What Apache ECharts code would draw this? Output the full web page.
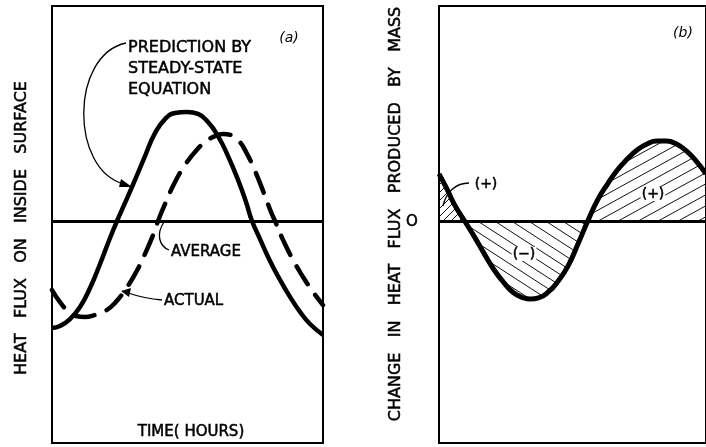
<!DOCTYPE html>
<html><head><meta charset="utf-8">
<script src="https://cdn.jsdelivr.net/npm/echarts@6/dist/echarts.min.js"></script>
<style>html,body{margin:0;padding:0;background:#fff}#c{width:706px;height:447px}</style>
</head><body><div id="c"></div>
<script>
// ---- data (time in hours, flux in relative units; 0 = average) ----
const predictionTime = [0,0.709,1.594,2.480,3.366,4.252,5.137,5.757,6.466,7.352,8.237,9.123,10.009,10.895,11.957,12.932,13.818,14.703,15.589,16.475,17.183,17.715,18.423,19.309,20.195,21.080,21.966,22.852,24];
const predictionFlux = [-0.498,-0.488,-0.456,-0.40,-0.312,-0.20,-0.079,0,0.084,0.191,0.302,0.409,0.474,0.502,0.507,0.498,0.460,0.395,0.302,0.191,0.088,0,-0.084,-0.186,-0.274,-0.353,-0.423,-0.479,-0.53];
const actualTime = [0,0.709,1.417,2.126,2.923,3.809,4.694,5.580,6.466,7.352,8.237,9.123,9.389,10.009,10.895,11.780,12.666,13.552,14.437,15.146,15.855,16.563,17.272,17.980,18.689,19.398,19.752,20.461,21.346,22.232,23.118,24];
const actualFlux = [-0.321,-0.377,-0.419,-0.442,-0.447,-0.437,-0.419,-0.381,-0.321,-0.247,-0.153,-0.042,0,0.079,0.181,0.260,0.321,0.367,0.395,0.405,0.40,0.372,0.312,0.233,0.140,0.042,0,-0.088,-0.181,-0.260,-0.330,-0.391];
const averageFlux = 0;
const massTime = [0,0.709,1.417,2.303,3.189,4.074,4.960,5.846,6.732,7.617,8.237,8.946,9.832,10.717,11.603,12.489,13.375,14.260,15.146,16.032,16.918,17.803,18.689,19.575,20.461,21.346,22.232,23.118,24];
const massChange = [0.219,0.149,0.074,0,-0.074,-0.153,-0.228,-0.288,-0.335,-0.358,-0.363,-0.358,-0.330,-0.279,-0.209,-0.107,0,0.098,0.172,0.237,0.288,0.330,0.358,0.372,0.372,0.358,0.326,0.279,0.219];
const timeRange = [0, 24];
const fluxRange = [-1.0326, 1];

const zip = (xs, ys) => xs.map((x, i) => [x, ys[i]]);
const massPairs = zip(massTime, massChange);
const firstCross = massTime[massChange.indexOf(0)];
const posLeft = massPairs.filter(p => p[0] <= firstCross).map(p => [p[0], Math.max(p[1], 0)]);
const posRight = massPairs.filter(p => p[0] > firstCross).map(p => [p[0], Math.max(p[1], 0)]);
const negPart = massPairs.map(p => [p[0], Math.min(p[1], 0)]);

function hatch(w, h, dir, lw) {
  const c = document.createElement('canvas');
  c.width = w; c.height = h;
  const g = c.getContext('2d');
  g.strokeStyle = '#111'; g.lineWidth = lw;
  for (const dy of [-h, 0, h]) {
    g.beginPath();
    if (dir > 0) { g.moveTo(0, h + dy); g.lineTo(w, dy); }
    else { g.moveTo(0, dy); g.lineTo(w, h + dy); }
    g.stroke();
  }
  return { image: c, repeat: 'repeat' };
}

const chart = echarts.init(document.getElementById('c'), null, { renderer: 'canvas' });
const font = '"DejaVu Sans", "Liberation Sans", sans-serif';
const axX = (i) => ({ type: 'value', gridIndex: i, min: timeRange[0], max: timeRange[1], show: false });
const axY = (i) => ({ type: 'value', gridIndex: i, min: fluxRange[0], max: fluxRange[1], show: false });
const zeroLine = { silent: true, symbol: ['none', 'none'], label: { show: false },
  lineStyle: { color: '#000', width: 3, type: 'solid' }, data: [{ yAxis: averageFlux }] };

const txt = (x, y, text, o = {}) => ({ type: 'text', x, y, z: 100, rotation: o.rot || 0,
  style: { text, font: o.font || ('15px ' + font), fill: '#000', stroke: '#000', lineWidth: o.lw == null ? 0.5 : o.lw,
    textAlign: o.align || 'left', textVerticalAlign: 'middle', backgroundColor: o.bg, padding: o.bg ? [0, 1] : 0 } });
const curve = (x1, y1, cx1, cy1, cx2, cy2, x2, y2) => ({ type: 'bezierCurve', z: 100,
  shape: { x1, y1, cpx1: cx1, cpy1: cy1, cpx2: cx2, cpy2: cy2, x2, y2 },
  style: { stroke: '#000', lineWidth: 1.3, fill: null } });
const head = (pts) => ({ type: 'polygon', z: 100, shape: { points: pts }, style: { fill: '#000' } });

chart.setOption({
  animation: false,
  backgroundColor: '#fff',
  grid: [
    { left: 52, top: 6, width: 271, height: 437, show: true, borderColor: '#000', borderWidth: 2 },
    { left: 439, top: 6, width: 271, height: 437, show: true, borderColor: '#000', borderWidth: 2 }
  ],
  xAxis: [axX(0), axX(1)],
  yAxis: [axY(0), axY(1)],
  series: [
    { type: 'line', xAxisIndex: 0, yAxisIndex: 0, data: zip(predictionTime, predictionFlux),
      smooth: 0.5, symbol: 'none', lineStyle: { color: '#000', width: 4.5 }, markLine: zeroLine },
    { type: 'line', xAxisIndex: 0, yAxisIndex: 0, data: zip(actualTime, actualFlux),
      smooth: 0.5, symbol: 'none', lineStyle: { color: '#000', width: 4.5, type: [21, 13], cap: 'round' } },
    { type: 'line', xAxisIndex: 1, yAxisIndex: 1, data: posLeft, symbol: 'none',
      lineStyle: { width: 0 }, areaStyle: { color: hatch(8, 8, 1, 1), opacity: 1 } },
    { type: 'line', xAxisIndex: 1, yAxisIndex: 1, data: posRight, symbol: 'none',
      lineStyle: { width: 0 }, areaStyle: { color: hatch(20, 11, 1, 1), opacity: 1 } },
    { type: 'line', xAxisIndex: 1, yAxisIndex: 1, data: negPart, symbol: 'none',
      lineStyle: { width: 0 }, areaStyle: { color: hatch(17, 11, -1, 1), opacity: 1 } },
    { type: 'line', xAxisIndex: 1, yAxisIndex: 1, data: massPairs, smooth: 0.5, symbol: 'none',
      lineStyle: { color: '#000', width: 5 }, markLine: zeroLine, z: 5 }
  ],
  graphic: [
    // panel (a)
    txt(22, 228, 'HEAT   FLUX   ON   INSIDE   SURFACE', { rot: Math.PI / 2, align: 'center', font: '16px ' + font }),
    txt(289, 38, '(a)', { align: 'center', font: 'italic 14px ' + font, lw: 0 }),
    txt(128, 48, 'PREDICTION BY', { font: '16px ' + font }),
    txt(128, 69, 'STEADY-STATE', { font: '16px ' + font }),
    txt(128, 90, 'EQUATION', { font: '16px ' + font }),
    curve(126, 43, 70, 55, 70, 170, 124, 184),
    head([[132, 187], [121, 179], [119, 187]]),
    curve(164, 222, 156, 234, 159, 246, 169, 250),
    txt(171, 252, 'AVERAGE'),
    curve(162, 300, 150, 299, 140, 297, 128, 293),
    head([[121, 291], [131, 288], [129, 297]]),
    txt(164, 301, 'ACTUAL'),
    txt(191, 432, 'TIME( HOURS)', { align: 'center' }),
    // panel (b)
    txt(396, 214, 'CHANGE   IN   HEAT   FLUX   PRODUCED   BY   MASS', { rot: Math.PI / 2, align: 'center', font: '16px ' + font }),
    txt(412, 222, 'O', { align: 'center', font: '15px ' + font }),
    txt(683, 33, '(b)', { align: 'center', font: 'italic 14px ' + font, lw: 0 }),
    curve(469, 183, 456, 183, 446, 192, 443, 206),
    txt(486, 184, '(+)', { align: 'center', font: '14px ' + font }),
    txt(653, 194, '(+)', { align: 'center', font: '14px ' + font, bg: '#fff' }),
    txt(524, 254, '(−)', { align: 'center', font: '14px ' + font, bg: '#fff' })
  ]
});
</script></body></html>
